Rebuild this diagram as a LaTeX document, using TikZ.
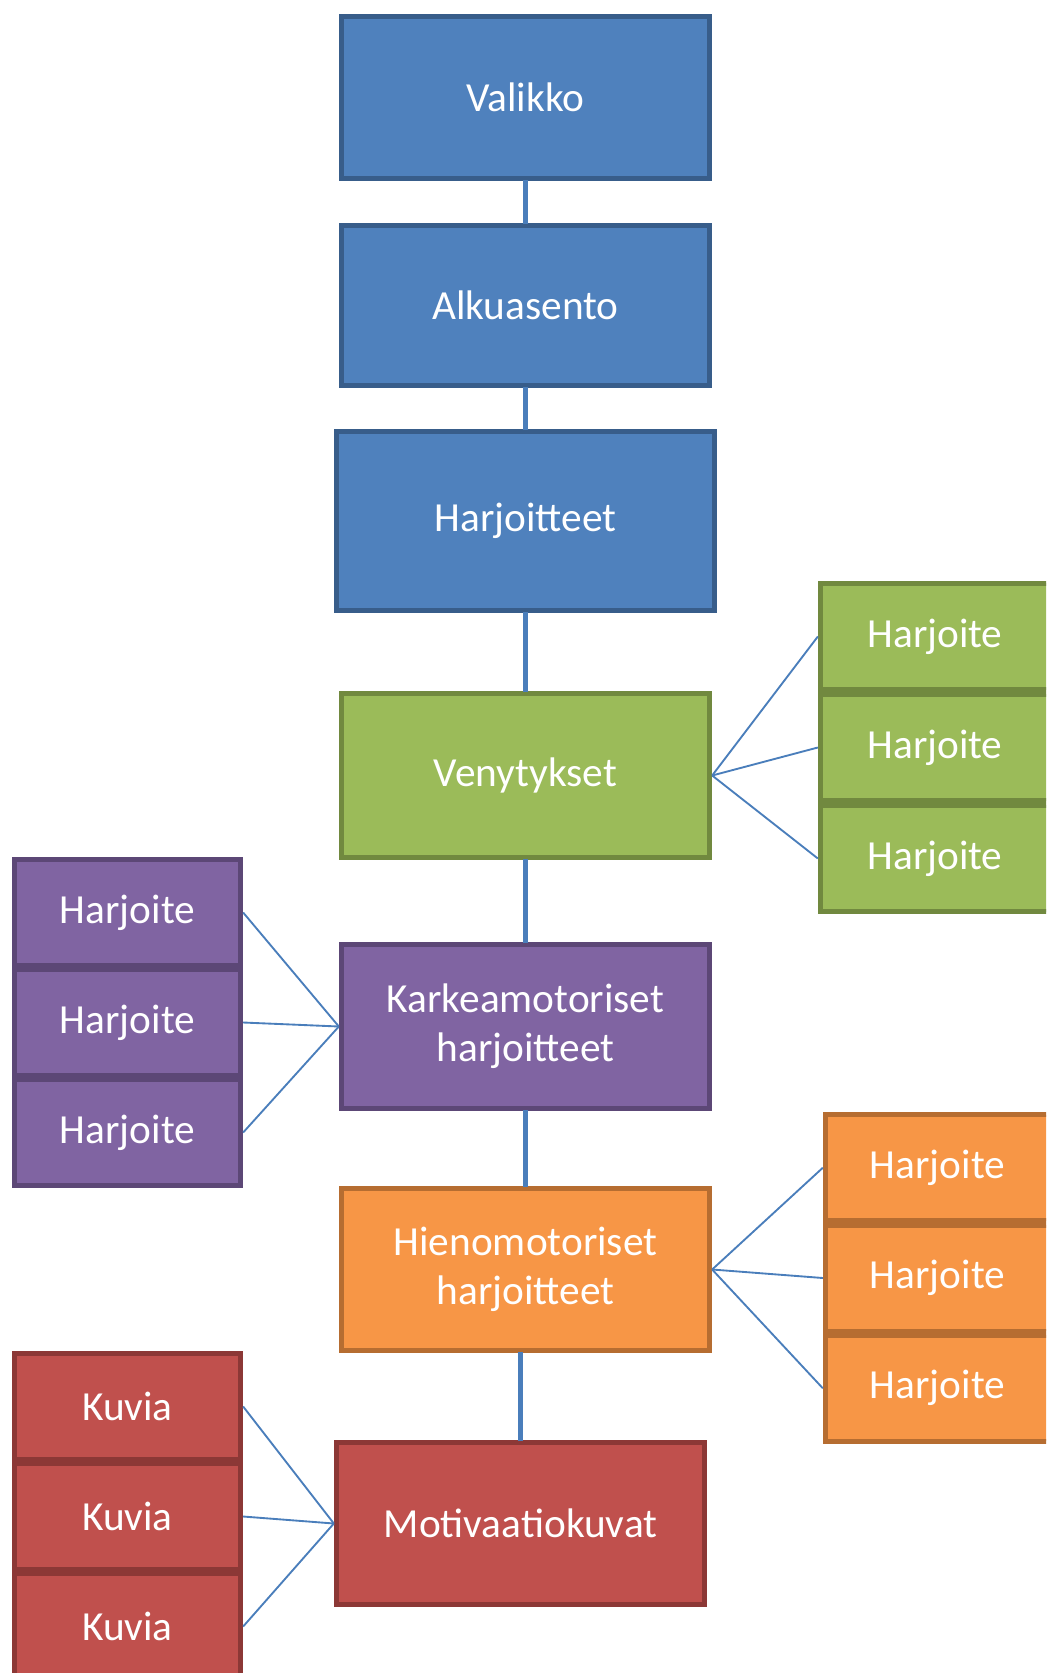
\documentclass[tikz,border=0pt]{standalone}
\usepackage{fontspec}
\setmainfont{Carlito}
\definecolor{bfill}{HTML}{4F81BD}\definecolor{bline}{HTML}{385D8A}
\definecolor{gfill}{HTML}{9BBB59}\definecolor{gline}{HTML}{71893F}
\definecolor{pfill}{HTML}{8064A2}\definecolor{pline}{HTML}{5C4776}
\definecolor{ofill}{HTML}{F79646}\definecolor{oline}{HTML}{B66D31}
\definecolor{rfill}{HTML}{C0504D}\definecolor{rline}{HTML}{8C3836}
\definecolor{conn}{HTML}{4A7EBB}
\tikzset{
  box/.style={rectangle, draw, line width=3.6pt, align=center, text=white, inner sep=0pt,
    font=\fontsize{31}{37}\selectfont},
  sz/.style 2 args={minimum width=#1*0.75pt, minimum height=#2*0.75pt},
  bluebox/.style={box, fill=bfill, draw=bline},
  greenbox/.style={box, fill=gfill, draw=gline},
  purplebox/.style={box, fill=pfill, draw=pline},
  orangebox/.style={box, fill=ofill, draw=oline},
  redbox/.style={box, fill=rfill, draw=rline},
  vconn/.style={draw=conn, line width=3.6pt},
  fan/.style={draw=conn, line width=1.4pt},
}
\begin{document}
\begin{tikzpicture}[x=0.75pt,y=-0.75pt]
\useasboundingbox (0,0) rectangle (1046,1673);
\clip (0,0) rectangle (1046,1673);
% main column
\node[bluebox, sz={368.5}{162.5}] (valikko) at (525.5,97.5) {Valikko};
\node[bluebox, sz={368.5}{160.5}] (alku) at (525.5,305.5) {Alkuasento};
\node[bluebox, sz={378.5}{179.5}] (harj) at (525.5,521) {Harjoitteet};
\node[greenbox, sz={368.5}{164.5}] (veny) at (525.5,775.5) {Venytykset};
\node[purplebox, sz={368.5}{164.5}] (karkea) at (525.5,1026.5) {Karkeamotoriset\\harjoitteet};
\node[orangebox, sz={368.5}{162.5}] (hieno) at (525.5,1269.5) {Hienomotoriset\\harjoitteet};
\node[redbox, sz={368.5}{162.5}] (moti) at (520.5,1523.5) {Motivaatiokuvat};
% green column
\node[greenbox, sz={229.5}{106.5}] (g1) at (935,636.5) {Harjoite};
\node[greenbox, sz={229.5}{106.5}] (g2) at (935,747.5) {Harjoite};
\node[greenbox, sz={229.5}{106.5}] (g3) at (935,858.5) {Harjoite};
% purple column
\node[purplebox, sz={226.5}{105.5}] (p1) at (127.5,912.5) {Harjoite};
\node[purplebox, sz={226.5}{105.5}] (p2) at (127.5,1022.5) {Harjoite};
\node[purplebox, sz={226.5}{105.5}] (p3) at (127.5,1132.5) {Harjoite};
% orange column
\node[orangebox, sz={224.5}{105.8}] (o1) at (937.5,1167.7) {Harjoite};
\node[orangebox, sz={224.5}{105.8}] (o2) at (937.5,1278) {Harjoite};
\node[orangebox, sz={224.5}{105.8}] (o3) at (937.5,1388.3) {Harjoite};
% red column
\node[redbox, sz={226.5}{105.5}] (r1) at (127.5,1406.5) {Kuvia};
\node[redbox, sz={226.5}{105.5}] (r2) at (127.5,1516.5) {Kuvia};
\node[redbox, sz={226.5}{105.5}] (r3) at (127.5,1626.5) {Kuvia};
% vertical connectors
\begin{scope}[on background layer/.try]
\end{scope}
\draw[vconn] ([yshift=1pt]valikko.south) -- ([yshift=-1pt]alku.north);
\draw[vconn] ([yshift=1pt]alku.south) -- ([yshift=-1pt]harj.north);
\draw[vconn] ([yshift=1pt]harj.south) -- ([yshift=-1pt]veny.north);
\draw[vconn] ([yshift=1pt]veny.south) -- ([yshift=-1pt]karkea.north);
\draw[vconn] ([yshift=1pt]karkea.south) -- ([yshift=-1pt]hieno.north);
\draw[vconn] ([yshift=1pt]moti.north |- hieno.south) -- ([yshift=-1pt]moti.north);
% fan connectors
\foreach \c in {g1,g2,g3} \draw[fan] (veny.east) -- (\c.west);
\foreach \c in {p1,p2,p3} \draw[fan] (karkea.west) -- (\c.east);
\foreach \c in {o1,o2,o3} \draw[fan] (hieno.east) -- (\c.west);
\foreach \c in {r1,r2,r3} \draw[fan] (moti.west) -- (\c.east);
\end{tikzpicture}
\end{document}
